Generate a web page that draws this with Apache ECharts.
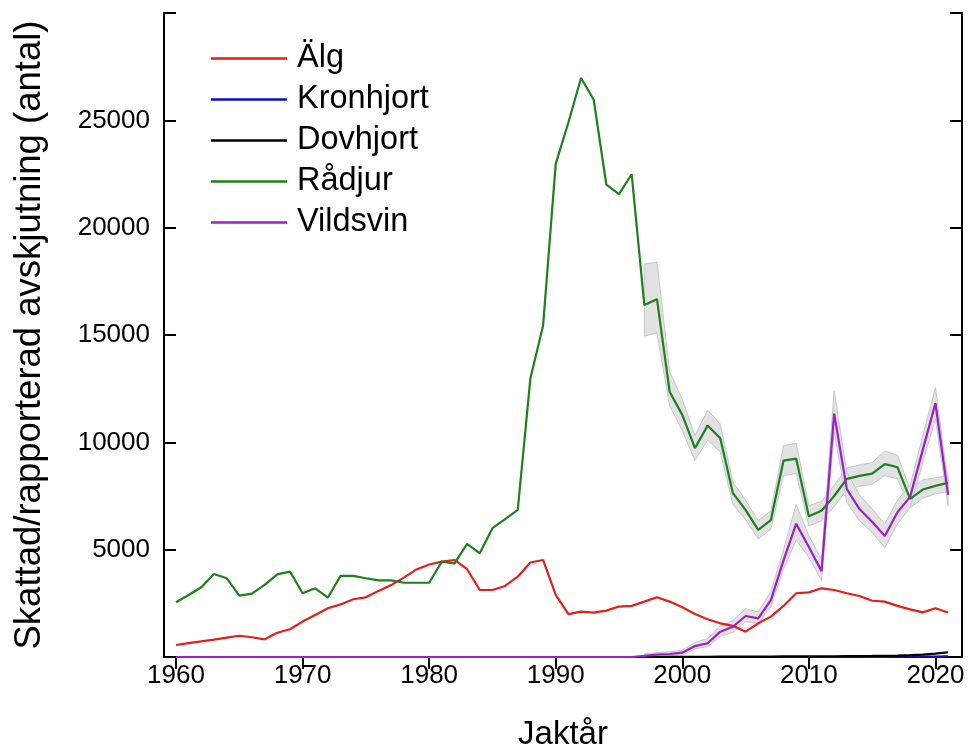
<!DOCTYPE html>
<html>
<head>
<meta charset="utf-8">
<script src="https://cdn.jsdelivr.net/npm/echarts@6/dist/echarts.min.js"></script>
<style>
html,body{margin:0;padding:0;background:#fff;}
#chart{width:969px;height:753px;}
</style>
</head>
<body>
<div id="chart"></div>
<script>
const years = [1960,1961,1962,1963,1964,1965,1966,1967,1968,1969,
  1970,1971,1972,1973,1974,1975,1976,1977,1978,1979,
  1980,1981,1982,1983,1984,1985,1986,1987,1988,1989,
  1990,1991,1992,1993,1994,1995,1996,1997,1998,1999,
  2000,2001,2002,2003,2004,2005,2006,2007,2008,2009,
  2010,2011,2012,2013,2014,2015,2016,2017,2018,2019,
  2020,2021];

const alg = [560,650,730,810,900,990,920,820,1130,1290,
  1650,1960,2270,2450,2690,2780,3080,3350,3700,4080,
  4310,4440,4520,4090,3120,3120,3310,3740,4400,4520,
  2890,2000,2110,2070,2160,2350,2380,2580,2780,2580,
  2320,2000,1760,1570,1450,1180,1570,1880,2380,2970,
  3010,3200,3120,2970,2840,2620,2580,2380,2220,2080,
  2270,2070];

const kronhjort = [0,0,0,0,0,0,0,0,0,0,
  0,0,0,0,0,0,0,0,0,0,
  0,0,0,0,0,0,0,0,0,0,
  0,0,0,0,0,0,0,0,0,0,
  0,0,0,0,0,0,0,0,0,0,
  0,0,0,0,0,5,10,12,15,18,
  20,25];

const dovhjort = [0,0,0,0,0,0,0,0,0,0,
  0,0,0,0,0,0,0,0,0,0,
  0,0,0,0,0,0,0,0,0,0,
  0,0,0,0,0,0,0,0,0,5,
  10,10,12,14,15,18,20,22,25,28,
  30,32,35,38,42,48,55,65,85,110,
  160,220];

const radjur = [2550,2890,3250,3870,3670,2860,2950,3360,3850,3980,
  2970,3200,2770,3780,3780,3670,3570,3570,3460,3460,
  3460,4440,4360,5270,4830,6000,6420,6850,12990,15430,
  22970,24900,26970,25960,22000,21560,22490,16400,16670,12360,
  11280,9730,10780,10190,7630,6850,5920,6380,9150,9240,
  6560,6810,7500,8300,8440,8540,8990,8840,7370,7800,
  7970,8110];

const vildsvin = [0,0,0,0,0,0,0,0,0,0,
  0,0,0,0,0,0,0,0,0,0,
  0,0,0,0,0,0,0,0,0,0,
  0,0,0,0,0,0,0,50,110,140,
  200,510,640,1180,1410,1910,1800,2650,4500,6210,
  5120,4000,11340,7820,6890,6300,5640,6740,7460,9650,
  11820,7550];

// confidence bands (1997-2021)
const bandYears = [1997,1998,1999,2000,2001,2002,2003,2004,2005,2006,
  2007,2008,2009,2010,2011,2012,2013,2014,2015,2016,
  2017,2018,2019,2020,2021];
const radjurLow = [14950,15100,11700,10550,9150,10100,9550,7100,6400,5500,
  5950,8450,8550,6100,6350,7000,7800,7950,8050,8450,
  8300,6950,7400,7600,7700];
const radjurHigh = [18300,18400,13300,12000,10300,11500,10850,8150,7300,6350,
  6800,9850,9950,7050,7250,8000,8800,8950,9050,9600,
  9400,7800,8250,8350,8450];
const vildsvinLow = [0,40,60,100,380,480,950,1150,1650,1550,
  2350,4100,5450,4650,3550,10500,7200,6350,5800,5100,
  6200,6950,9050,11100,7050];
const vildsvinHigh = [150,200,250,320,680,850,1450,1700,2250,2100,
  3050,5000,7100,5650,4550,12400,8600,7550,6900,6200,
  7300,8000,10300,12550,8100];

const xTicks = [1960,1970,1980,1990,2000,2010,2020];
const yTickLabels = ['5000','10000','15000','20000','25000'];

const seriesNames = ['Älg','Kronhjort','Dovhjort','Rådjur','Vildsvin'];
const seriesColors = ['#e01f1f','#0c0cc0','#000000','#1f7f1f','#9b20c8'];

function pairs(xs, ys){ return xs.map((x,i)=>[x, ys[i]]); }

function bandSeries(lo, hi){
  return {
    type:'custom', silent:true, z:1, clip:true,
    data: bandYears.map((y,i)=>[y, lo[i], hi[i]]),
    encode:{x:0, y:[1,2]},
    renderItem:function(params, api){
      if (params.dataIndex !== 0) return null;
      const pts = [];
      for (let i=0;i<bandYears.length;i++) pts.push(api.coord([bandYears[i], lo[i]]));
      for (let i=bandYears.length-1;i>=0;i--) pts.push(api.coord([bandYears[i], hi[i]]));
      return {type:'polygon', shape:{points:pts}, style:{fill:'#e2e2e2', stroke:'#c6c6c6', lineWidth:1}};
    }
  };
}

const dataSets = [alg, kronhjort, dovhjort, radjur, vildsvin];
const lineSeries = seriesNames.map((n,i)=>({
  name:n, type:'line', data: pairs(years, dataSets[i]),
  symbol:'none', z:3,
  lineStyle:{color:seriesColors[i], width:2.2},
  itemStyle:{color:seriesColors[i]}
}));

const chart = echarts.init(document.getElementById('chart'), null, {renderer:'canvas'});
const font = 'Liberation Sans, Arial, sans-serif';
chart.setOption({
  animation:false,
  backgroundColor:'#fff',
  textStyle:{fontFamily:font},
  grid:{left:164, right:7, top:13, bottom:96, containLabel:false, outerBoundsMode:'none'},
  legend:{
    data: seriesNames,
    orient:'vertical', left:206, top:33,
    icon:'rect', itemWidth:76, itemHeight:2.5, itemGap:0,
    textStyle:{fontSize:32.5, color:'#000', fontFamily:font, lineHeight:41, padding:[0,0,0,5]}
  },
  xAxis:[{
    type:'value', min:1959.05, max:2022.1,
    name:'Jaktår', nameLocation:'middle', nameGap:61,
    nameTextStyle:{fontSize:33, color:'#000', fontFamily:font},
    axisLine:{show:true, lineStyle:{color:'#000', width:2}},
    axisTick:{show:true, inside:false, length:12, customValues:xTicks, lineStyle:{color:'#000', width:2}},
    axisLabel:{show:true, customValues:xTicks, fontSize:26, color:'#000', margin:6, fontFamily:font,
      formatter:function(v){ return String(v); }},
    splitLine:{show:false}
  },{
    type:'value', position:'top', min:1959.05, max:2022.1,
    axisLine:{show:true, lineStyle:{color:'#000', width:2}},
    axisTick:{show:false}, axisLabel:{show:false}, splitLine:{show:false}
  }],
  yAxis:[{
    type:'value', min:0, max:30000, interval:5000,
    name:'Skattad/rapporterad avskjutning (antal)', nameLocation:'middle', nameGap:116,
    nameTextStyle:{fontSize:36.5, color:'#000', fontFamily:font},
    axisLine:{show:true, lineStyle:{color:'#000', width:2}},
    axisTick:{show:true, inside:true, length:12, lineStyle:{color:'#000', width:2}},
    axisLabel:{show:true, fontSize:26, color:'#000', margin:14, fontFamily:font,
      formatter:function(v){ const s=String(v); return yTickLabels.indexOf(s)>=0 ? s : ''; }},
    splitLine:{show:false}
  },{
    type:'value', position:'right', min:0, max:30000, interval:5000,
    axisLine:{show:true, lineStyle:{color:'#000', width:2}},
    axisTick:{show:true, inside:true, length:12, lineStyle:{color:'#000', width:2}},
    axisLabel:{show:false}, splitLine:{show:false}
  }],
  series: [bandSeries(radjurLow, radjurHigh), bandSeries(vildsvinLow, vildsvinHigh)].concat(lineSeries)
});
</script>
</body>
</html>
